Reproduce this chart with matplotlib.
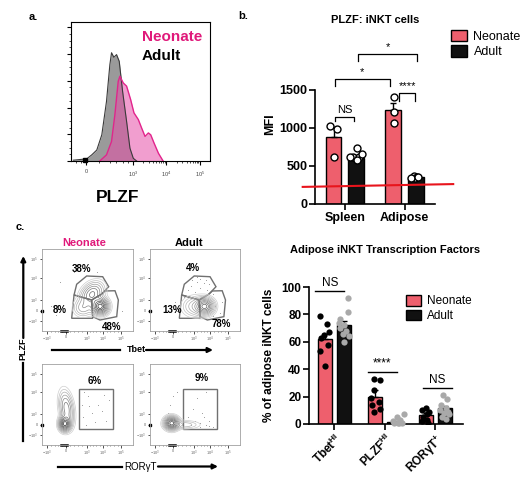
import numpy as np
import matplotlib
matplotlib.use("Agg")
import matplotlib.pyplot as plt
from matplotlib.patches import Polygon, Rectangle, Patch

plt.rcParams['font.family'] = ['Liberation Sans', 'DejaVu Sans']
plt.rcParams['mathtext.fontset'] = 'custom'
plt.rcParams['mathtext.rm'] = 'Liberation Sans'
plt.rcParams['mathtext.bf'] = 'Liberation Sans:bold'

W, H = 525, 484
PINK = '#EE5F6D'
MAGENTA = '#E0197A'
GREYDOT = '#A9A9A9'

# ---- a: PLZF histogram (x in decades, 0 sits at 1.6)
adult_hist_x = [1.22, 1.62, 1.77, 1.92, 2.07, 2.21, 2.31, 2.36, 2.43, 2.51, 2.59, 2.69, 2.81, 2.91, 3.01, 3.11]
adult_hist_y = [0.03, 0.08, 0.23, 0.41, 0.98, 2.23, 3.6, 4.05, 3.88, 3.98, 3.73, 2.61, 1.48, 0.48, 0.1, 0.0]
neo_hist_x = [2.01, 2.21, 2.36, 2.46, 2.56, 2.61, 2.71, 2.81, 2.93, 3.03, 3.16, 3.26, 3.36, 3.46, 3.53, 3.63, 3.76, 3.9]
neo_hist_y = [0.0, 0.23, 0.73, 1.73, 2.98, 3.17, 2.92, 2.8, 2.3, 1.8, 1.55, 1.23, 0.92, 1.05, 0.98, 0.67, 0.29, 0.0]
hist_ticks = [1.6, 3, 4, 5]
hist_ticklabels = ['0', '$10^3$', '$10^4$', '$10^5$']

# ---- b: PLZF MFI
b_groups = ['Spleen', 'Adipose']
b_neo_mean = [880, 1235]
b_neo_sem = [135, 95]
b_adult_mean = [610, 350]
b_adult_sem = [30, 15]
b_neo_pts = [[1030, 990, 620], [1410, 1215, 1070]]
b_neo_dx = [[-0.064, 0.066, 0.003], [0.008, 0.008, 0.008]]
b_adult_pts = [[740, 615, 620, 655, 615, 580], [370, 360, 345, 340, 355]]
b_adult_dx = [[0.007, -0.05, 0.05, 0.09, -0.106, 0.017], [-0.037, 0.02, -0.008, -0.076, 0.042]]
b_cutoff_x = [-0.706, 1.815]
b_cutoff_y = [225, 262]
# (x1, x2, top, leg bottom, label)
b_sig = [(-0.168, 0.151, 1145, 1092, 'NS'),
         (0.908, 1.176, 1460, 1355, '****'),
         (-0.168, 0.756, 1645, 1553, '*'),
         (0.218, 1.21, 1974, 1882, '*')]

# ---- c: adipose transcription factors
c_groups = [r'Tbet$^{\mathbf{HI}}$', r'PLZF$^{\mathbf{HI}}$', r'ROR$\mathbf{\gamma}$T$^{\mathbf{+}}$']
c_neo_mean = [62, 19.5, 6.6]
c_neo_sem = [4, 5, 1.5]
c_adult_mean = [72, 1.5, 11.4]
c_adult_sem = [3, 0.5, 2]
c_neo_pts = [[79, 73, 67, 65, 63, 58, 53, 42],
             [33, 32, 25, 19, 16, 14, 11, 9],
             [12, 10, 9, 7, 5, 3, 2, 1]]
c_neo_dx = [[-0.1, 0.05, 0.09, -0.02, -0.08, 0.07, -0.1, 0.0],
            [-0.03, 0.1, -0.03, -0.08, 0.08, -0.06, 0.1, -0.03],
            [-0.0, -0.07, 0.06, 0.03, -0.05, 0.02, -0.08, 0.05]]
c_adult_pts = [[92, 82, 77, 74, 72, 70, 68, 66, 64, 60],
               [7, 5, 3, 2, 1, 1, 0.5, 0.5],
               [21, 18, 14, 12, 10, 9, 8, 7, 5, 4]]
c_adult_dx = [[0.08, 0.08, -0.08, -0.1, 0.0, -0.08, 0.05, -0.02, 0.1, 0.0],
              [0.19, 0.05, 0.12, -0.02, 0.08, 0.15, 0.0, 0.1],
              [-0.03, 0.05, -0.07, 0.03, -0.09, 0.07, -0.02, 0.09, -0.06, 0.02]]
c_sig = [(-0.38, 0.2, 97, 'NS'), (0.67, 1.24, 38, '****'), (1.75, 2.33, 26, 'NS')]

# ---- c: flow plots (axes fractions)
flow_ticks_x = [0.06, 0.26, 0.49, 0.67, 0.87]
flow_ticks_y = [0.12, 0.25, 0.38, 0.65, 0.88]
flow_ticklabels = ['$-10^3$', '0', '$10^3$', '$10^4$', '$10^5$']
gate_top = [(0.352, 0.439), (0.381, 0.570), (0.491, 0.671), (0.667, 0.662), (0.733, 0.540), (0.656, 0.451), (0.546, 0.378)]
gate_right = [(0.546, 0.378), (0.656, 0.451), (0.692, 0.488), (0.802, 0.491), (0.839, 0.378), (0.821, 0.175), (0.637, 0.134), (0.557, 0.175)]
gate_left = [(0.352, 0.439), (0.546, 0.378), (0.557, 0.155), (0.326, 0.155)]
# blobs: cx, cy, sx, sy, rho, weight
tl_blobs = [(0.64, 0.30, 0.05, 0.055, 0.0, 1.0), (0.55, 0.45, 0.07, 0.08, 0.3, 0.5), (0.45, 0.28, 0.06, 0.06, 0.0, 0.2)]
tr_blobs = [(0.61, 0.30, 0.055, 0.055, 0.0, 1.0), (0.50, 0.30, 0.08, 0.07, 0.0, 0.25)]
bl_blobs = [(0.25, 0.26, 0.035, 0.05, 0.0, 1.0), (0.27, 0.45, 0.045, 0.12, -0.3, 0.45)]
br_blobs = [(0.24, 0.27, 0.045, 0.045, 0.0, 1.0), (0.38, 0.25, 0.10, 0.03, 0.0, 0.15)]
tl_labels = [(0.436, 0.752, '38%'), (0.19, 0.256, '8%'), (0.766, 0.05, '48%')]
tr_labels = [(0.474, 0.765, '4%'), (0.241, 0.256, '13%'), (0.797, 0.09, '78%')]
bl_labels = [(0.582, 0.794, '6%')]
br_labels = [(0.574, 0.823, '9%')]
tl_dots = [(0.1, 0.3), (0.15, 0.2), (0.35, 0.72), (0.6, 0.72), (0.88, 0.25), (0.2, 0.6)]
tr_dots = [(0.45, 0.55), (0.52, 0.6), (0.56, 0.52), (0.6, 0.58), (0.5, 0.47), (0.63, 0.5), (0.42, 0.5),
           (0.55, 0.64), (0.47, 0.62), (0.66, 0.57), (0.7, 0.45), (0.38, 0.42), (0.58, 0.42), (0.52, 0.66),
           (0.62, 0.62), (0.72, 0.3), (0.78, 0.22), (0.8, 0.35), (0.7, 0.18), (0.3, 0.25), (0.28, 0.35)]
bl_gate = (0.41, 0.194, 0.37, 0.494)
br_gate = (0.37, 0.194, 0.378, 0.494)
bl_dots = [(0.5, 0.6), (0.55, 0.4), (0.45, 0.35), (0.62, 0.5), (0.7, 0.3), (0.48, 0.25), (0.58, 0.28),
           (0.66, 0.42), (0.52, 0.48), (0.74, 0.55), (0.44, 0.5), (0.6, 0.2), (0.68, 0.62), (0.46, 0.66)]
br_dots = [(0.45, 0.25), (0.5, 0.3), (0.55, 0.22), (0.6, 0.35), (0.62, 0.25), (0.58, 0.4), (0.48, 0.45),
           (0.65, 0.3), (0.7, 0.22), (0.52, 0.58), (0.62, 0.65), (0.42, 0.35), (0.22, 0.5), (0.25, 0.6),
           (0.3, 0.65), (0.2, 0.4), (0.55, 0.27), (0.66, 0.24)]
contour_fracs = [0.03, 0.06, 0.1, 0.16, 0.24, 0.34, 0.46, 0.6, 0.75, 0.9]


def rect(l, t, r, b):
    return [l / W, 1 - b / H, (r - l) / W, (b - t) / H]


fig = plt.figure(figsize=(W / 100, H / 100), dpi=100)
ax0 = fig.add_axes([0, 0, 1, 1])
ax0.set_xlim(0, W)
ax0.set_ylim(H, 0)
ax0.axis('off')
ax0.set_zorder(10)

for x, y, s in [(33, 17, 'a.'), (243, 16, 'b.'), (20, 227, 'c.')]:
    ax0.text(x, y, s, fontsize=8, fontweight='bold', ha='center', va='center')

# ---------------- a
axa = fig.add_axes(rect(71, 22, 210, 161))
axa.fill_between(adult_hist_x, adult_hist_y, color='#9A9A9A', lw=0)
axa.plot(adult_hist_x, adult_hist_y, color='#3a3a3a', lw=0.8)
axa.fill_between(neo_hist_x, neo_hist_y, color='#E64FA8', alpha=0.55, lw=0)
axa.plot(neo_hist_x, neo_hist_y, color='#E2248C', lw=1)
axa.set_xlim(1.15, 5.3)
axa.set_ylim(0, 5.2)
axa.set_xticks(hist_ticks)
axa.set_xticklabels(hist_ticklabels, fontsize=4, color='#444')
minor = [1.3, 1.45, 2.0, 2.3, 2.5, 2.7, 2.85]
for d in [3, 4]:
    minor += list(d + np.log10(np.arange(2, 10)))
axa.set_xticks(minor, minor=True)
axa.set_yticks(np.arange(0, 6))
axa.set_yticks(np.arange(0, 5.2, 0.25), minor=True)
axa.set_yticklabels([])
axa.tick_params(length=3, width=0.8, pad=3)
axa.tick_params(which='minor', length=1.5, width=0.5)
for sp in axa.spines.values():
    sp.set_linewidth(0.8)
axa.plot([1.56], [0.02], 's', color='k', ms=2.5, clip_on=False)
ax0.text(142, 37, 'Neonate', color=MAGENTA, fontsize=11, fontweight='bold', va='center')
ax0.text(142, 56.5, 'Adult', color='k', fontsize=11, fontweight='bold', va='center')
ax0.text(118, 197, 'PLZF', fontsize=12.5, fontweight='bold', ha='center', va='center')

# ---------------- b
axb = fig.add_axes(rect(315, 44.4, 435, 204))
xb = np.arange(len(b_groups))
off, bw = 0.19, 0.26
ekw = dict(lw=1, capthick=1, ecolor='k')
axb.bar(xb - off, b_neo_mean, bw, color=PINK, edgecolor='k', lw=1,
        yerr=[[0] * 2, b_neo_sem], capsize=2.5, error_kw=ekw)
axb.bar(xb + off, b_adult_mean, bw, color='#111111', edgecolor='k', lw=1,
        yerr=[[0] * 2, b_adult_sem], capsize=2.5, error_kw=ekw)
for i in range(len(b_groups)):
    axb.plot(i - off + np.array(b_neo_dx[i]), b_neo_pts[i], 'o', mfc='white', mec='k', ms=5, mew=1, zorder=3)
    axb.plot(i + off + np.array(b_adult_dx[i]), b_adult_pts[i], 'o', mfc='white', mec='k', ms=5, mew=1, zorder=3)
axb.plot(b_cutoff_x, b_cutoff_y, color='#E8141C', lw=1.5, clip_on=False, zorder=4)
for x1, x2, yt, yb, s in b_sig:
    axb.plot([x1, x1, x2, x2], [yb, yt, yt, yb], color='k', lw=0.9, clip_on=False)
    axb.text((x1 + x2) / 2, yt + 25, s, ha='center', va='bottom', fontsize=8)
axb.set_xlim(-0.5, 1.51)
axb.set_ylim(0, 2100)
axb.spines['top'].set_visible(False)
axb.spines['right'].set_visible(False)
axb.spines['left'].set_bounds(0, 1500)
for sp in ['left', 'bottom']:
    axb.spines[sp].set_linewidth(1.2)
axb.set_yticks([0, 500, 1000, 1500])
axb.set_xticks(xb)
axb.set_xticklabels(b_groups, fontsize=9, fontweight='bold')
for t in axb.get_yticklabels():
    t.set_fontweight('bold')
    t.set_fontsize(9)
axb.tick_params(length=4, width=1.2, pad=1.5)
axb.set_ylabel('MFI', fontsize=9, fontweight='bold', labelpad=2)
ax0.text(375, 20, 'PLZF: iNKT cells', fontsize=8, fontweight='bold', ha='center', va='center')
fig.legend(handles=[Patch(fc=PINK, ec='k'), Patch(fc='#111111', ec='k')], labels=['Neonate', 'Adult'],
           loc='upper left', bbox_to_anchor=(451 / W, 1 - 30 / H), frameon=False, fontsize=9,
           handlelength=1.3, handleheight=1.0, handletextpad=0.5, labelspacing=0.2,
           borderpad=0, borderaxespad=0)

# ---------------- c bar chart
axc = fig.add_axes(rect(309, 287, 463, 424))
xc = np.arange(len(c_groups))
off, bw = 0.19, 0.28
axc.bar(xc - off, c_neo_mean, bw, color=PINK, edgecolor='k', lw=1,
        yerr=[[0] * 3, c_neo_sem], capsize=2, error_kw=ekw)
axc.bar(xc + off, c_adult_mean, bw, color='#111111', edgecolor='k', lw=1,
        yerr=[[0] * 3, c_adult_sem], capsize=2, error_kw=ekw)
for i in range(len(c_groups)):
    axc.plot(i - off + np.array(c_neo_dx[i]), c_neo_pts[i], 'o', color='k', ms=4.5, mew=0, zorder=3)
    axc.plot(i + off + np.array(c_adult_dx[i]), c_adult_pts[i], 'o', color=GREYDOT, ms=4.5, mew=0,
             zorder=3, clip_on=False)
for x1, x2, y, s in c_sig:
    axc.plot([x1, x2], [y, y], color='k', lw=1, clip_on=False)
    axc.text((x1 + x2) / 2, y + 1.5, s, ha='center', va='bottom', fontsize=8.5)
axc.set_xlim(-0.5, 2.55)
axc.set_ylim(0, 100)
axc.spines['top'].set_visible(False)
axc.spines['right'].set_visible(False)
for sp in ['left', 'bottom']:
    axc.spines[sp].set_linewidth(1.2)
axc.set_yticks(np.arange(0, 101, 20))
for t in axc.get_yticklabels():
    t.set_fontweight('bold')
    t.set_fontsize(8.5)
axc.set_xticks(xc)
axc.set_xticklabels(c_groups, fontsize=8.5, fontweight='bold', rotation=45, ha='right', va='top',
                    rotation_mode='anchor')
axc.tick_params(length=4, width=1.2, pad=1.5)
axc.set_ylabel('% of adipose iNKT cells', fontsize=8.5, fontweight='bold', labelpad=5)
ax0.text(385, 250, 'Adipose iNKT Transcription Factors', fontsize=8, fontweight='bold',
         ha='center', va='center')
fig.legend(handles=[Patch(fc=PINK, ec='k'), Patch(fc='#111111', ec='k')], labels=['Neonate', 'Adult'],
           loc='upper left', bbox_to_anchor=(406 / W, 1 - 295 / H), frameon=False, fontsize=8.5,
           handlelength=1.3, handleheight=1.0, handletextpad=0.5, labelspacing=0.2,
           borderpad=0, borderaxespad=0)


# ---------------- c flow plots
def flow_panel(box, blobs, dots, labels, dark, gates=None, gate_rect=None):
    ax = fig.add_axes(rect(*box))
    ax.set_xlim(0, 1)
    ax.set_ylim(0, 1)
    gx, gy = np.meshgrid(np.linspace(0, 1, 220), np.linspace(0, 1, 220))
    dens = np.zeros_like(gx)
    for cx, cy, sx, sy, rho, w in blobs:
        u = (gx - cx) / sx
        v = (gy - cy) / sy
        dens += w * np.exp(-(u * u - 2 * rho * u * v + v * v) / (2 * (1 - rho ** 2)))
    lv = dens.max() * np.array(contour_fracs)
    cols = plt.cm.Greys(np.linspace(0.3, dark, len(lv)))
    ax.contour(gx, gy, dens, levels=lv, colors=cols, linewidths=0.5)
    if dots:
        dx, dy = zip(*dots)
        ax.scatter(dx, dy, s=0.35, color='#888888', lw=0)
    if gates:
        for g in gates:
            ax.add_patch(Polygon(g, closed=True, fill=False, ec='#707070', lw=1.0))
    if gate_rect:
        x, y, w, h = gate_rect
        ax.add_patch(Rectangle((x, y), w, h, fill=False, ec='#707070', lw=1.0))
    for x, y, s in labels:
        ax.text(x, y, s, fontsize=7, fontweight='bold', ha='center', va='center', clip_on=False)
    for sp in ax.spines.values():
        sp.set_color('#A0A0A0')
        sp.set_linewidth(0.6)
    ax.set_xticks(flow_ticks_x)
    ax.set_yticks(flow_ticks_y)
    ax.set_xticklabels(flow_ticklabels, fontsize=2.8, color='#666')
    ax.set_yticklabels(flow_ticklabels, fontsize=2.8, color='#666')
    mx = []
    for a, b in zip(flow_ticks_x[:-1], flow_ticks_x[1:]):
        mx += list(np.linspace(a, b, 6)[1:-1])
    ax.set_xticks(mx, minor=True)
    ax.tick_params(length=1.8, width=0.6, pad=1, color='#333')
    ax.tick_params(which='minor', length=1.0, width=0.4, color='#333')
    ax.plot([0], [0.25], 's', color='k', ms=2, clip_on=False)
    ax.plot([0.21, 0.28], [0, 0], color='k', lw=1.8, clip_on=False)
    return ax


flow_panel((42, 249, 133, 331), tl_blobs, tl_dots, tl_labels, 0.85, gates=[gate_top, gate_right, gate_left])
flow_panel((150, 249, 240, 331), tr_blobs, tr_dots, tr_labels, 0.7, gates=[gate_top, gate_right, gate_left])
flow_panel((42, 364, 133, 445), bl_blobs, bl_dots, bl_labels, 0.85, gate_rect=bl_gate)
flow_panel((150, 364, 240, 445), br_blobs, br_dots, br_labels, 0.8, gate_rect=br_gate)

ax0.text(84, 243, 'Neonate', color=MAGENTA, fontsize=8, fontweight='bold', ha='center', va='center')
ax0.text(189, 243, 'Adult', color='k', fontsize=8, fontweight='bold', ha='center', va='center')

# axis arrows
arr = dict(arrowstyle='-|>', lw=1.6, color='k', mutation_scale=7, shrinkA=0, shrinkB=0)
ax0.plot([52, 120], [350, 350], color='k', lw=1.6)
ax0.annotate('', xy=(213, 350), xytext=(146, 350), arrowprops=arr)
ax0.text(136, 350, 'Tbet', fontsize=6.5, fontweight='bold', ha='center', va='center')
ax0.plot([58, 122], [466.5, 466.5], color='k', lw=1.6)
ax0.annotate('', xy=(218, 466.5), xytext=(158, 466.5), arrowprops=arr)
ax0.text(140, 466.5, 'RORγT', fontsize=7, ha='center', va='center')
ax0.plot([23.3, 23.3], [441, 363], color='k', lw=1.6)
ax0.annotate('', xy=(23.3, 256), xytext=(23.3, 338), arrowprops=arr)
ax0.text(23.3, 349, 'PLZF', fontsize=6.5, fontweight='bold', rotation=90, ha='center', va='center')

fig.savefig('out.png', dpi=100, facecolor='white')
